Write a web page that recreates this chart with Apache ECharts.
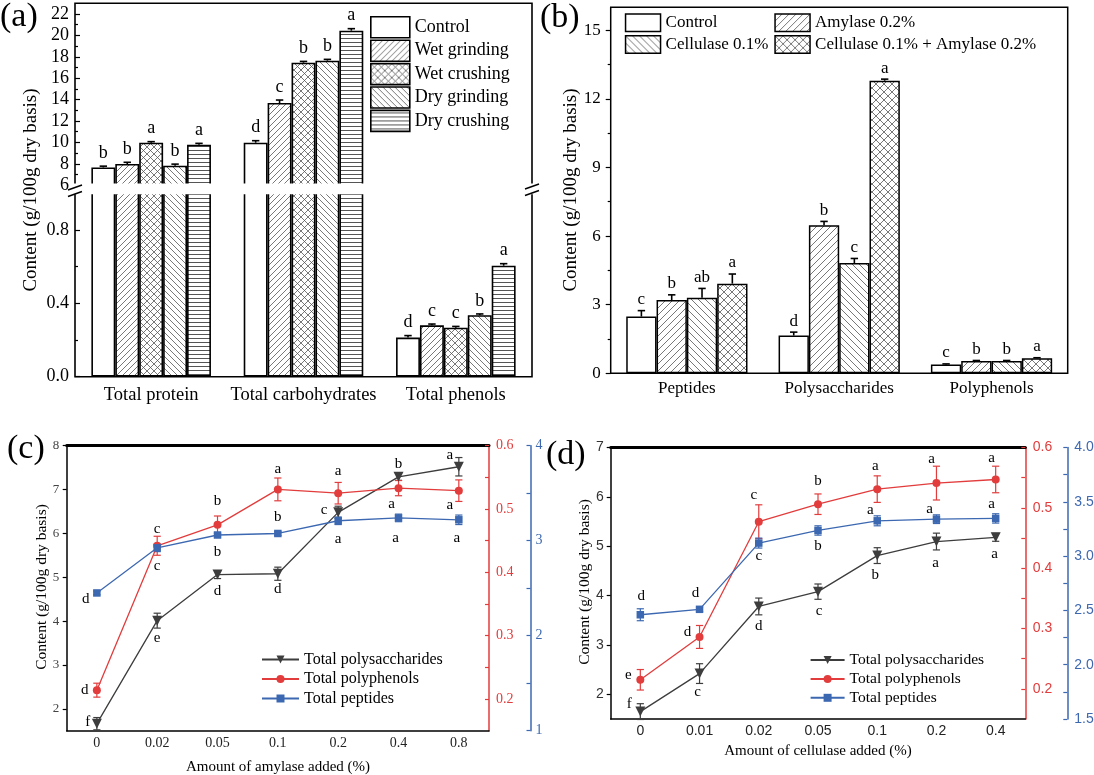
<!DOCTYPE html>
<html><head><meta charset="utf-8">
<script src="https://cdn.jsdelivr.net/npm/echarts@6/dist/echarts.min.js"></script>
<style>html,body{margin:0;padding:0;background:#fff}#c{width:1094px;height:775px}</style>
</head><body><div id="c"></div>
<script>
// ---------------- DATA ----------------
// (a)
const aCategories = ['Total protein', 'Total carbohydrates', 'Total phenols'];
const aNames = ['Control', 'Wet grinding', 'Wet crushing', 'Dry grinding', 'Dry crushing'];
const aControl = [7.66, 9.97, 0.213];
const aWetGrinding = [7.98, 13.68, 0.280];
const aWetCrushing = [9.97, 17.45, 0.267];
const aDryGrinding = [7.82, 17.64, 0.335];
const aDryCrushing = [9.79, 20.44, 0.605];
const aControlErr = [0.12, 0.19, 0.011];
const aWetGrindingErr = [0.16, 0.28, 0.007];
const aWetCrushingErr = [0.10, 0.12, 0.007];
const aDryGrindingErr = [0.15, 0.12, 0.007];
const aDryCrushingErr = [0.12, 0.19, 0.011];
const aControlLetters = ['b', 'd', 'd'];
const aWetGrindingLetters = ['b', 'c', 'c'];
const aWetCrushingLetters = ['a', 'b', 'c'];
const aDryGrindingLetters = ['b', 'b', 'b'];
const aDryCrushingLetters = ['a', 'a', 'a'];
const aUpperTickLabels = [6, 8, 10, 12, 14, 16, 18, 20, 22];
const aUpperMinorTicks = [7, 9, 11, 13, 15, 17, 19, 21];
const aLowerTickLabels = [0, 0.4, 0.8];
const aLowerMinorTicks = [0.2, 0.6];

// (b)
const bCategories = ['Peptides', 'Polysaccharides', 'Polyphenols'];
const bNames = ['Control', 'Amylase 0.2%', 'Cellulase 0.1%', 'Cellulase 0.1% + Amylase 0.2%'];
const bControl = [2.48, 1.65, 0.39];
const bAmylase = [3.20, 6.47, 0.54];
const bCellulase = [3.30, 4.82, 0.54];
const bCombined = [3.92, 12.79, 0.66];
const bControlErr = [0.26, 0.15, 0.02];
const bAmylaseErr = [0.23, 0.17, 0.02];
const bCellulaseErr = [0.41, 0.20, 0.02];
const bCombinedErr = [0.42, 0.07, 0.02];
const bControlLetters = ['c', 'd', 'c'];
const bAmylaseLetters = ['b', 'b', 'b'];
const bCellulaseLetters = ['ab', 'c', 'b'];
const bCombinedLetters = ['a', 'a', 'a'];
const bTickLabels = [0, 3, 6, 9, 12, 15];
const bMinorTicks = [1.5, 4.5, 7.5, 10.5, 13.5];

// (c)
const cCategories = ['0', '0.02', '0.05', '0.1', '0.2', '0.4', '0.8'];
const cPolysaccharides = [1.66, 4.01, 5.06, 5.08, 6.48, 7.29, 7.52];
const cPolysaccharidesErr = [0.14, 0.17, 0.09, 0.15, 0.14, 0.08, 0.21];
const cPolyphenols = [0.214, 0.442, 0.475, 0.531, 0.525, 0.533, 0.529];
const cPolyphenolsErr = [0.011, 0.015, 0.014, 0.018, 0.017, 0.012, 0.017];
const cPeptides = [2.45, 2.925, 3.06, 3.076, 3.21, 3.24, 3.22];
const cPeptidesErr = [0.02, 0.04, 0.02, 0.02, 0.04, 0.04, 0.05];
const cPolysaccharidesLetters = ['f', 'e', 'd', 'd', 'c', 'b', 'a'];
const cPolyphenolsLetters = ['d', 'c', 'b', 'a', 'a', 'a', 'a'];
const cPeptidesLetters = ['d', 'c', 'b', 'b', 'a', 'a', 'a'];
const cLeftTicks = [2, 3, 4, 5, 6, 7, 8];
const cRedLabels = [0.2, 0.3, 0.4, 0.5, 0.6];
const cRedTicks = [0.2, 0.25, 0.3, 0.35, 0.4, 0.45, 0.5, 0.55, 0.6];
const cBlueLabels = [1, 2, 3, 4];
const cBlueTicks = [1, 1.5, 2, 2.5, 3, 3.5, 4];

// (d)
const dCategories = ['0', '0.01', '0.02', '0.05', '0.1', '0.2', '0.4'];
const dPolysaccharides = [1.65, 2.42, 3.78, 4.08, 4.81, 5.095, 5.18];
const dPolysaccharidesErr = [0.16, 0.20, 0.17, 0.155, 0.16, 0.17, 0.08];
const dPolyphenols = [0.215, 0.286, 0.477, 0.506, 0.531, 0.541, 0.547];
const dPolyphenolsErr = [0.017, 0.019, 0.028, 0.017, 0.022, 0.028, 0.022];
const dPeptides = [2.46, 2.51, 3.12, 3.236, 3.325, 3.34, 3.347];
const dPeptidesErr = [0.055, 0.02, 0.046, 0.043, 0.046, 0.04, 0.043];
const dPolysaccharidesLetters = ['f', 'c', 'd', 'c', 'b', 'a', 'a'];
const dPolyphenolsLetters = ['e', 'd', 'c', 'b', 'a', 'a', 'a'];
const dPeptidesLetters = ['d', 'd', 'c', 'b', 'a', 'a', 'a'];
const dLeftTicks = [2, 3, 4, 5, 6, 7];
const dRedLabels = [0.2, 0.3, 0.4, 0.5, 0.6];
const dRedTicks = [0.2, 0.25, 0.3, 0.35, 0.4, 0.45, 0.5, 0.55, 0.6];
const dBlueLabels = [1.5, 2.0, 2.5, 3.0, 3.5, 4.0];
const dBlueTicks = [1.5, 1.75, 2, 2.25, 2.5, 2.75, 3, 3.25, 3.5, 3.75, 4];

const lineNames = ['Total polysaccharides', 'Total polyphenols', 'Total peptides'];
const yName = 'Content (g/100g dry basis)';

// ---------------- LAYOUT / STYLE (not data) ----------------
const SERIF = '"Liberation Serif","Times New Roman",serif';
const SANS = '"Liberation Sans",Arial,sans-serif';
const BLK = '#3d3d3d', RED = '#e23c3c', BLUE = '#3c68b1';
// letter label pixel offsets relative to the point
const cOff = [
  [[-9, -2], [0, 17], [0, 16], [0, 15], [-14, -2], [0, -13], [-9, -12]],
  [[-12, 0], [0, -17], [0, -24], [0, -20], [0, -22], [-7, 16], [-9, 14]],
  [[-11, 6], [0, 18], [0, 17], [0, -16], [0, 18], [-3, 20], [-2, 18]]
];
const dOff = [
  [[-11, -8], [-2, 18], [0, 20], [1, 19], [-2, 19], [-1, 22], [-1, 17]],
  [[-12, -5], [-12, -5], [-5, -27], [0, -23], [-2, -23], [-5, -24], [-4, -21]],
  [[1, -19], [-4, -16], [0, 13], [0, 16], [-7, -11], [-7, -10], [-4, -14]]
];

function hatch(kind, s, lw, col) {
  const c = document.createElement('canvas');
  c.width = s; c.height = s;
  const g = c.getContext('2d');
  g.fillStyle = '#fff'; g.fillRect(0, 0, s, s);
  if (kind !== 'none') {
    g.strokeStyle = col; g.lineWidth = lw;
    g.beginPath();
    if (kind === 'h') { g.moveTo(0, s / 2 + 0.5); g.lineTo(s, s / 2 + 0.5); }
    if (kind === '/' || kind === 'x') for (let k = -1; k <= 1; k++) { g.moveTo(k * s, s); g.lineTo(k * s + s, 0); }
    if (kind === '\\' || kind === 'x') for (let k = -1; k <= 1; k++) { g.moveTo(k * s, 0); g.lineTo(k * s + s, s); }
    g.stroke();
  }
  return { image: c, repeat: 'repeat' };
}
const aPatterns = [hatch('none', 4), hatch('/', 6, 0.8, '#555'), hatch('x', 7, 0.8, '#555'), hatch('\\', 6, 0.8, '#555'), hatch('h', 4, 1, '#555')];
const bPatterns = [hatch('none', 4), hatch('/', 7, 0.8, '#555'), hatch('\\', 7, 0.8, '#555'), hatch('x', 8, 0.8, '#555')];

const aValues = [aControl, aWetGrinding, aWetCrushing, aDryGrinding, aDryCrushing];
const aErrs = [aControlErr, aWetGrindingErr, aWetCrushingErr, aDryGrindingErr, aDryCrushingErr];
const aLetters = [aControlLetters, aWetGrindingLetters, aWetCrushingLetters, aDryGrindingLetters, aDryCrushingLetters];
const bValues = [bControl, bAmylase, bCellulase, bCombined];
const bErrs = [bControlErr, bAmylaseErr, bCellulaseErr, bCombinedErr];
const bLetters = [bControlLetters, bAmylaseLetters, bCellulaseLetters, bCombinedLetters];

const A_GAP = 0.215, B_GAP = 0.204;

function barErr(k, n, gap, letters, font, lift, lo, hi) {
  return function (params, api) {
    const i = api.value(0), v = api.value(1), e = api.value(2);
    if (v < lo || v > hi) return null;
    const band = api.size([1, 0])[0];
    const w = band * (1 - gap) / n;
    const p = api.coord([i, v]);
    const x = p[0] + (k - (n - 1) / 2) * w;
    const yt = api.coord([i, v + e])[1];
    const cap = 3.7;
    return {
      type: 'group', children: [
        { type: 'line', shape: { x1: x, y1: p[1], x2: x, y2: yt }, style: { stroke: '#000', lineWidth: 1.6 } },
        { type: 'line', shape: { x1: x - cap, y1: yt, x2: x + cap, y2: yt }, style: { stroke: '#000', lineWidth: 1.6 } },
        { type: 'text', x: x, y: yt - lift, style: { text: letters[params.dataIndex], font: font, fill: '#000', align: 'center', verticalAlign: 'middle', textAlign: 'center', textVerticalAlign: 'middle' } }
      ]
    };
  };
}
function lineErr(color, letters, offs, font) {
  return function (params, api) {
    const i = api.value(0), v = api.value(1), e = api.value(2);
    const p = api.coord([i, v]);
    const t = api.coord([i, v + e])[1];
    const b = api.coord([i, v - e])[1];
    const cap = 3.6;
    const o = offs[params.dataIndex];
    return {
      type: 'group', children: [
        { type: 'line', shape: { x1: p[0], y1: t, x2: p[0], y2: b }, style: { stroke: color, lineWidth: 1.2 } },
        { type: 'line', shape: { x1: p[0] - cap, y1: t, x2: p[0] + cap, y2: t }, style: { stroke: color, lineWidth: 1.2 } },
        { type: 'line', shape: { x1: p[0] - cap, y1: b, x2: p[0] + cap, y2: b }, style: { stroke: color, lineWidth: 1.2 } },
        { type: 'text', x: p[0] + o[0], y: p[1] + o[1], style: { text: letters[params.dataIndex], font: font, fill: '#000', align: 'center', verticalAlign: 'middle', textAlign: 'center', textVerticalAlign: 'middle' } }
      ]
    };
  };
}

const series = [];
// (a) bars: upper grid (x0,y0) and lower grid (x1,y2)
aNames.forEach((name, k) => {
  [[0, 0], [1, 2]].forEach(([xi, yi]) => {
    series.push({
      type: 'bar', name: name, xAxisIndex: xi, yAxisIndex: yi, data: aValues[k],
      barGap: 0, barCategoryGap: (A_GAP * 100) + '%', clip: true,
      itemStyle: { color: aPatterns[k], borderColor: '#000', borderWidth: 1.6 }, silent: true
    });
  });
});
aNames.forEach((name, k) => {
  const d = aValues[k].map((v, i) => [i, v, aErrs[k][i]]);
  series.push({ type: 'custom', xAxisIndex: 0, yAxisIndex: 0, data: d, z: 5, silent: true,
    renderItem: barErr(k, 5, A_GAP, aLetters[k], '18px ' + SERIF, 13, 6, 23) });
  series.push({ type: 'custom', xAxisIndex: 1, yAxisIndex: 2, data: d, z: 5, silent: true,
    renderItem: barErr(k, 5, A_GAP, aLetters[k], '18px ' + SERIF, 13, 0, 1) });
});
// (b)
bNames.forEach((name, k) => {
  series.push({
    type: 'bar', name: name, xAxisIndex: 2, yAxisIndex: 4, data: bValues[k],
    barGap: 0, barCategoryGap: (B_GAP * 100) + '%',
    itemStyle: { color: bPatterns[k], borderColor: '#000', borderWidth: 1.5 }, silent: true
  });
  const d = bValues[k].map((v, i) => [i, v, bErrs[k][i]]);
  series.push({ type: 'custom', xAxisIndex: 2, yAxisIndex: 4, data: d, z: 5, silent: true,
    renderItem: barErr(k, 4, B_GAP, bLetters[k], '17px ' + SERIF, 11, 0, 16) });
});
// (c) and (d) lines
function addLines(xi, yAxes, vals, errs, letters, offs) {
  const colors = [BLK, RED, BLUE];
  const symbols = ['triangle', 'circle', 'rect'];
  const sizes = [10, 8, 7.5];
  vals.forEach((v, s) => {
    series.push({
      type: 'line', name: lineNames[s], xAxisIndex: xi, yAxisIndex: yAxes[s], data: v, z: 4,
      symbol: symbols[s], symbolSize: sizes[s], symbolRotate: s === 0 ? 180 : 0, showAllSymbol: true,
      lineStyle: { color: colors[s], width: 1.3 }, itemStyle: { color: colors[s] }, silent: true
    });
    series.push({
      type: 'custom', xAxisIndex: xi, yAxisIndex: yAxes[s], z: 3, silent: true,
      data: v.map((y, i) => [i, y, errs[s][i]]),
      renderItem: lineErr(colors[s], letters[s], offs[s], '15px ' + SERIF)
    });
  });
}
addLines(3, [6, 7, 8], [cPolysaccharides, cPolyphenols, cPeptides], [cPolysaccharidesErr, cPolyphenolsErr, cPeptidesErr],
  [cPolysaccharidesLetters, cPolyphenolsLetters, cPeptidesLetters], cOff);
addLines(6, [9, 10, 11], [dPolysaccharides, dPolyphenols, dPeptides], [dPolysaccharidesErr, dPolyphenolsErr, dPeptidesErr],
  [dPolysaccharidesLetters, dPolyphenolsLetters, dPeptidesLetters], dOff);

const noSplit = { show: false };
const fmt1 = v => Number(v).toFixed(1);
const fmtInt = v => String(v);

function catAxes(gi, cats, fontFam, fontSize, margin) {
  return [
    { gridIndex: gi, type: 'category', data: cats, position: 'bottom',
      axisLine: { onZero: false, lineStyle: { color: '#000', width: 1.5 } },
      axisTick: { alignWithLabel: true, inside: true, length: 5, lineStyle: { color: '#000', width: 1.2 } },
      axisLabel: { interval: 0, fontFamily: fontFam, fontSize: fontSize, color: '#222', margin: margin },
      splitLine: noSplit },
    { gridIndex: gi, type: 'category', data: cats, position: 'bottom',
      axisLine: { show: false }, axisTick: { inside: true, length: 3, lineStyle: { color: '#000', width: 1.2 } },
      axisLabel: { show: false }, splitLine: noSplit },
    { gridIndex: gi, type: 'category', data: cats, position: 'top',
      axisLine: { onZero: false, lineStyle: { color: '#000', width: 3 } }, axisTick: { show: false },
      axisLabel: { show: false }, splitLine: noSplit }
  ];
}

function valAxis(o) {
  return {
    gridIndex: o.grid, type: 'value', min: o.min, max: o.max, position: o.pos || 'left', offset: o.offset || 0,
    splitLine: noSplit,
    axisLine: o.line ? { show: true, onZero: false, lineStyle: { color: o.line, width: 1.5 } } : { show: false },
    axisTick: { show: !!o.ticks, inside: !!o.inside, length: o.tickLen || 4, customValues: o.ticks,
      lineStyle: { color: o.tickColor || o.line || '#000', width: 1.2 } },
    axisLabel: o.labels ? { show: true, customValues: o.labels, formatter: o.fmt || fmtInt, fontFamily: o.font,
      fontSize: o.fontSize, color: o.color || '#000', margin: o.margin } : { show: false }
  };
}

const option = {
  animation: false,
  backgroundColor: '#fff',
  grid: [
    { left: 75, top: 3.3, width: 457, height: 181.9, show: true, borderColor: '#000', borderWidth: 1.6, backgroundColor: 'transparent', containLabel: false, outerBoundsMode: 'none' },
    { left: 75, top: 193.2, width: 457, height: 183.5, show: true, borderColor: '#000', borderWidth: 1.6, backgroundColor: 'transparent', containLabel: false, outerBoundsMode: 'none' },
    { left: 610.7, top: 7.3, width: 457, height: 366, show: true, borderColor: '#000', borderWidth: 1.5, backgroundColor: 'transparent', containLabel: false, outerBoundsMode: 'none' },
    { left: 66.7, top: 445.7, width: 422.3, height: 285, show: false, containLabel: false, outerBoundsMode: 'none' },
    { left: 610.7, top: 447.5, width: 414.6, height: 271.5, show: false, containLabel: false, outerBoundsMode: 'none' }
  ],
  xAxis: [
    { gridIndex: 0, type: 'category', data: aCategories, show: false },
    { gridIndex: 1, type: 'category', data: aCategories, position: 'bottom', axisLine: { show: false }, axisTick: { show: false },
      axisLabel: { interval: 0, fontFamily: SERIF, fontSize: 18.5, color: '#000', margin: 9 }, splitLine: noSplit },
    { gridIndex: 2, type: 'category', data: bCategories, position: 'bottom', axisLine: { show: false }, axisTick: { show: false },
      axisLabel: { interval: 0, fontFamily: SERIF, fontSize: 17, color: '#000', margin: 6.5 }, splitLine: noSplit },
    ...catAxes(3, cCategories, SERIF, 14, 6),
    ...catAxes(4, dCategories, SANS, 14, 5.5)
  ],
  yAxis: [
    valAxis({ grid: 0, min: 6, max: 23, ticks: aUpperTickLabels, labels: aUpperTickLabels, inside: true, tickLen: 5, font: SERIF, fontSize: 18, margin: 6 }),
    valAxis({ grid: 0, min: 6, max: 23, ticks: aUpperMinorTicks, inside: true, tickLen: 3 }),
    valAxis({ grid: 1, min: 0, max: 1, ticks: aLowerTickLabels, labels: aLowerTickLabels, fmt: fmt1, inside: true, tickLen: 5, font: SERIF, fontSize: 18, margin: 6 }),
    valAxis({ grid: 1, min: 0, max: 1, ticks: aLowerMinorTicks, inside: true, tickLen: 3 }),
    valAxis({ grid: 2, min: 0, max: 16, ticks: bTickLabels, labels: bTickLabels, inside: false, tickLen: 5, font: SERIF, fontSize: 17, margin: 10 }),
    valAxis({ grid: 2, min: 0, max: 16, ticks: bMinorTicks, inside: false, tickLen: 3 }),
    // (c)
    valAxis({ grid: 3, min: 1.5, max: 8, line: '#000', ticks: cLeftTicks, labels: cLeftTicks, inside: false, tickLen: 4, font: SERIF, fontSize: 13, color: '#444', margin: 7.5 }),
    valAxis({ grid: 3, min: 0.15, max: 0.6, pos: 'right', line: RED, ticks: cRedTicks, labels: cRedLabels, fmt: fmt1, inside: true, tickLen: 4, font: SERIF, fontSize: 14, color: RED, margin: 7 }),
    valAxis({ grid: 3, min: 1, max: 4, pos: 'right', offset: 41.5, line: BLUE, ticks: cBlueTicks, labels: cBlueLabels, inside: true, tickLen: 4, font: SERIF, fontSize: 14, color: BLUE, margin: 5 }),
    // (d)
    valAxis({ grid: 4, min: 1.5, max: 7, line: '#000', ticks: dLeftTicks, labels: dLeftTicks, inside: false, tickLen: 4, font: SANS, fontSize: 14, color: '#333', margin: 7 }),
    valAxis({ grid: 4, min: 0.15, max: 0.6, pos: 'right', line: RED, ticks: dRedTicks, labels: dRedLabels, fmt: fmt1, inside: true, tickLen: 4, font: SANS, fontSize: 14, color: RED, margin: 7.5 }),
    valAxis({ grid: 4, min: 1.5, max: 4, pos: 'right', offset: 42, line: BLUE, ticks: dBlueTicks, labels: dBlueLabels, fmt: fmt1, inside: true, tickLen: 4, font: SANS, fontSize: 14, color: BLUE, margin: 7 })
  ],
  legend: [
    { data: aNames, orient: 'vertical', left: 370, top: 16, padding: 0, itemWidth: 39, itemHeight: 21, itemGap: 0.8, icon: 'rect',
      itemStyle: { borderColor: '#000', borderWidth: 1.6 }, textStyle: { fontFamily: SERIF, fontSize: 18, color: '#000' }, selectedMode: false },
    { data: [bNames[0], bNames[2]], orient: 'vertical', left: 624.8, top: 13.3, padding: 0, itemWidth: 35, itemHeight: 17.5, itemGap: 2.8, icon: 'rect',
      itemStyle: { borderColor: '#000', borderWidth: 1.5 }, textStyle: { fontFamily: SERIF, fontSize: 17, color: '#000' }, selectedMode: false },
    { data: [bNames[1], bNames[3]], orient: 'vertical', left: 774.3, top: 13.3, padding: 0, itemWidth: 35, itemHeight: 17.5, itemGap: 2.8, icon: 'rect',
      itemStyle: { borderColor: '#000', borderWidth: 1.5 }, textStyle: { fontFamily: SERIF, fontSize: 17, color: '#000' }, selectedMode: false },
    { data: lineNames, orient: 'vertical', left: 261, top: 651.5, padding: 0, itemWidth: 37, itemHeight: 10, itemGap: 3.5,
      textStyle: { fontFamily: SERIF, fontSize: 16, color: '#000' }, selectedMode: false },
    { data: lineNames, orient: 'vertical', left: 809.6, top: 652, padding: 0, itemWidth: 34, itemHeight: 10, itemGap: 2.9,
      textStyle: { fontFamily: SERIF, fontSize: 15.5, color: '#000' }, selectedMode: false }
  ],
  graphic: [
    // break cover + marks for (a)
    { type: 'rect', z: 100, shape: { x: 73, y: 183.4, width: 462, height: 10.9 }, style: { fill: '#fff' }, silent: true },
    { type: 'line', z: 101, shape: { x1: 68, y1: 190, x2: 82, y2: 185 }, style: { stroke: '#000', lineWidth: 1.4 } },
    { type: 'line', z: 101, shape: { x1: 68, y1: 196.5, x2: 82, y2: 191.5 }, style: { stroke: '#000', lineWidth: 1.4 } },
    { type: 'line', z: 101, shape: { x1: 525, y1: 189, x2: 539, y2: 184 }, style: { stroke: '#000', lineWidth: 1.4 } },
    { type: 'line', z: 101, shape: { x1: 525, y1: 195.5, x2: 539, y2: 190.5 }, style: { stroke: '#000', lineWidth: 1.4 } },
    // panel tags
    { type: 'text', x: 0, y: 17, style: { text: '(a)', font: '34px ' + SERIF, fill: '#000', align: 'left', verticalAlign: 'middle', textAlign: 'left', textVerticalAlign: 'middle' } },
    { type: 'text', x: 540, y: 18, style: { text: '(b)', font: '34px ' + SERIF, fill: '#000', align: 'left', verticalAlign: 'middle', textAlign: 'left', textVerticalAlign: 'middle' } },
    { type: 'text', x: 7, y: 449, style: { text: '(c)', font: '34px ' + SERIF, fill: '#000', align: 'left', verticalAlign: 'middle', textAlign: 'left', textVerticalAlign: 'middle' } },
    { type: 'text', x: 546, y: 455, style: { text: '(d)', font: '34px ' + SERIF, fill: '#000', align: 'left', verticalAlign: 'middle', textAlign: 'left', textVerticalAlign: 'middle' } },
    // axis names
    { type: 'text', x: 31, y: 190, rotation: Math.PI / 2, style: { text: yName, font: '19px ' + SERIF, fill: '#000', align: 'center', verticalAlign: 'middle', textAlign: 'center', textVerticalAlign: 'middle' } },
    { type: 'text', x: 571, y: 190, rotation: Math.PI / 2, style: { text: yName, font: '19px ' + SERIF, fill: '#000', align: 'center', verticalAlign: 'middle', textAlign: 'center', textVerticalAlign: 'middle' } },
    { type: 'text', x: 42, y: 587, rotation: Math.PI / 2, style: { text: yName, font: '15.5px ' + SERIF, fill: '#000', align: 'center', verticalAlign: 'middle', textAlign: 'center', textVerticalAlign: 'middle' } },
    { type: 'text', x: 585, y: 582, rotation: Math.PI / 2, style: { text: yName, font: '15.5px ' + SERIF, fill: '#000', align: 'center', verticalAlign: 'middle', textAlign: 'center', textVerticalAlign: 'middle' } },
    { type: 'text', x: 278, y: 767, style: { text: 'Amount of amylase added (%)', font: '15px ' + SERIF, fill: '#000', align: 'center', verticalAlign: 'middle', textAlign: 'center', textVerticalAlign: 'middle' } },
    { type: 'text', x: 818, y: 751, style: { text: 'Amount of cellulase added (%)', font: '15px ' + SERIF, fill: '#000', align: 'center', verticalAlign: 'middle', textAlign: 'center', textVerticalAlign: 'middle' } }
  ],
  series: series
};

const chart = echarts.init(document.getElementById('c'), null, { renderer: 'canvas', width: 1094, height: 775 });
chart.setOption(option);
</script>
</body></html>
